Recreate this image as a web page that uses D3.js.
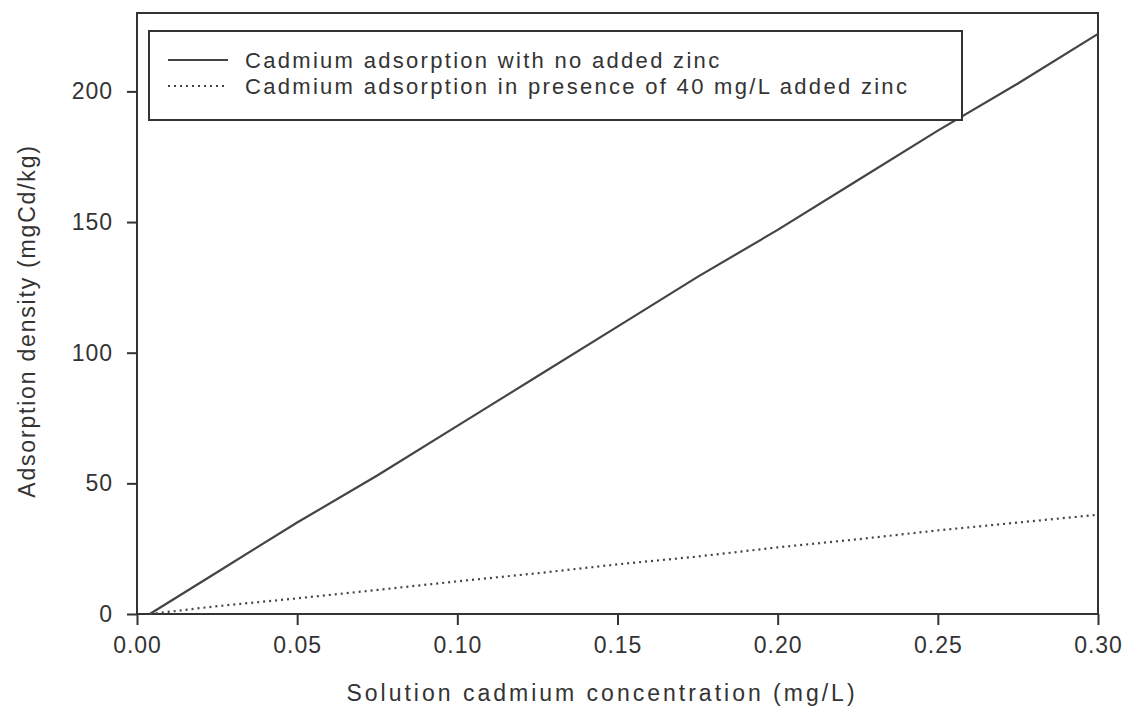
<!DOCTYPE html>
<html><head><meta charset="utf-8">
<script src="https://cdn.jsdelivr.net/npm/d3@7"></script>
<style>
body{margin:0;background:#fff;}
svg{display:block;font-family:"Liberation Sans",Arial,sans-serif;}
</style></head>
<body><svg id="c" width="1123" height="711"></svg>
<script>
const xTicks=[0,0.05,0.10,0.15,0.20,0.25,0.30];
const yTicks=[0,50,100,150,200];
const concNoZinc=[0.004,0.025,0.05,0.075,0.10,0.125,0.15,0.175,0.20,0.225,0.25,0.275,0.30];
const adsNoZinc=[0,16,35,53,72,91,110,129,147,166,185,203,222];
const concZinc=[0.004,0.025,0.05,0.075,0.10,0.125,0.15,0.175,0.20,0.225,0.25,0.275,0.30];
const adsZinc=[0,3,6,9.2,12.5,15.6,19,22,25.5,28.6,32,35,38];
const seriesNames=["Cadmium adsorption with no added zinc","Cadmium adsorption in presence of 40 mg/L added zinc"];
const xTitle="Solution cadmium concentration (mg/L)";
const yTitle="Adsorption density (mgCd/kg)";

const svg=d3.select("#c");
const L=137,R=1098,T=13,B=614;
const x=d3.scaleLinear().domain([0,0.30]).range([L,R]);
const y=d3.scaleLinear().domain([0,230]).range([B,T]);
const ink="#333";

svg.append("rect").attr("x",L).attr("y",T).attr("width",R-L).attr("height",B-T)
  .attr("fill","none").attr("stroke",ink).attr("stroke-width",2);

const xa=svg.append("g").attr("transform",`translate(0,${B})`)
  .call(d3.axisBottom(x).tickValues(xTicks).tickFormat(d3.format(".2f")).tickSize(11).tickPadding(12));
const ya=svg.append("g").attr("transform",`translate(${L},0)`)
  .call(d3.axisLeft(y).tickValues(yTicks).tickFormat(d3.format("d")).tickSize(10).tickPadding(14));
[xa,ya].forEach(a=>{
  a.select(".domain").remove();
  a.selectAll("line").attr("stroke",ink).attr("stroke-width",2);
  a.selectAll("text").attr("fill","#333").style("font-size","23px").style("letter-spacing","1px")
   .style("font-family","'Liberation Sans',Arial,sans-serif");
});

const line=d3.line().x(d=>x(d[0])).y(d=>y(d[1]));
svg.append("path").datum(d3.zip(concNoZinc,adsNoZinc)).attr("d",line)
  .attr("fill","none").attr("stroke","#444").attr("stroke-width",2.2);
svg.append("path").datum(d3.zip(concZinc,adsZinc)).attr("d",line)
  .attr("fill","none").attr("stroke","#444").attr("stroke-width",2.2).attr("stroke-dasharray","2,4");

const lg=svg.append("g");
lg.append("rect").attr("x",149).attr("y",31).attr("width",813).attr("height",89)
  .attr("fill","#fff").attr("stroke",ink).attr("stroke-width",2);
const dashes=[null,"2,4"];
seriesNames.forEach((n,i)=>{
  const yy=60+i*26;
  lg.append("line").attr("x1",168).attr("x2",228).attr("y1",yy).attr("y2",yy)
    .attr("stroke","#444").attr("stroke-width",2.2).attr("stroke-dasharray",dashes[i]);
  lg.append("text").attr("x",245).attr("y",yy+8).text(n)
    .attr("fill","#333").style("font-size","22px").style("letter-spacing","2.3px");
});

svg.append("text").attr("x",602).attr("y",701).attr("text-anchor","middle").text(xTitle)
  .attr("fill","#333").style("font-size","23px").style("letter-spacing","3px");
svg.append("text").attr("transform",`translate(35,321) rotate(-90)`).attr("text-anchor","middle")
  .text(yTitle).attr("fill","#333").style("font-size","23px").style("letter-spacing","1.8px");
</script></body></html>
